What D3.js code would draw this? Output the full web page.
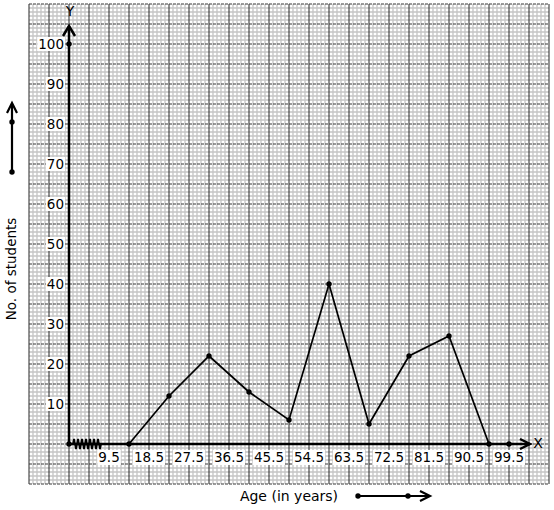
<!DOCTYPE html>
<html><head><meta charset="utf-8">
<script src="https://cdn.jsdelivr.net/npm/d3@7"></script>
<style>body{margin:0;background:#fff}svg{display:block}text{font-family:"DejaVu Sans",sans-serif}</style>
</head><body><svg id="c" width="554" height="510"></svg>
<script>
const classMarks = [14, 23, 32, 41, 50, 59, 68, 77, 86, 95];
const students = [0, 12, 22, 13, 6, 40, 5, 22, 27, 0];
const xTickLabels = [9.5, 18.5, 27.5, 36.5, 45.5, 54.5, 63.5, 72.5, 81.5, 90.5, 99.5];
const yTicks = [10, 20, 30, 40, 50, 60, 70, 80, 90, 100];
const xTitle = "Age (in years)";
const yTitle = "No. of students";

const svg = d3.select("#c");
const ox = 69, oy = 444;
const x = d3.scaleLinear().domain([9.5, 99.5]).range([109, 509]);
const y = d3.scaleLinear().domain([0, 100]).range([oy, 44]);

// graph paper
const gx0 = 29, gx1 = 549, gy0 = 4, gy1 = 484;
const grid = svg.append("g");
for (let px = gx0; px <= gx1; px += 4) {
  if ((px - gx0) % 20 === 0) continue;
  grid.append("line").attr("x1", px).attr("x2", px).attr("y1", gy0).attr("y2", gy1)
    .attr("stroke", "#c4c4c4").attr("stroke-width", 1.3);
}
for (let py = gy0; py <= gy1; py += 4) {
  if ((py - gy0) % 20 === 0) continue;
  grid.append("line").attr("x1", gx0).attr("x2", gx1).attr("y1", py).attr("y2", py)
    .attr("stroke", "#c4c4c4").attr("stroke-width", 1.3);
}
for (let py = gy0; py <= gy1; py += 20) {
  grid.append("line").attr("x1", gx0).attr("x2", gx1).attr("y1", py).attr("y2", py)
    .attr("stroke", "#3a3a3a").attr("stroke-width", 1.1).attr("stroke-dasharray", "3,1");
}
for (let px = gx0; px <= gx1; px += 20) {
  grid.append("line").attr("x1", px).attr("x2", px).attr("y1", gy0).attr("y2", gy1)
    .attr("stroke", "#3a3a3a").attr("stroke-width", 1.1);
}

// axes
const ax = svg.append("g").attr("stroke", "#000").attr("fill", "none").attr("stroke-width", 2.5);
ax.append("line").attr("x1", ox).attr("x2", ox).attr("y1", oy).attr("y2", 26);
ax.append("path").attr("d", `M${ox-6},${36} L${ox},${26} L${ox+6},${36}`);
ax.append("line").attr("x1", ox).attr("x2", 530).attr("y1", oy).attr("y2", oy);
ax.append("path").attr("d", `M${520},${oy-5} L${530},${oy} L${520},${oy+5}`);
// zigzag break
let zz = `M${ox+4},${oy}`;
for (let i = 0; i < 7; i++) {
  const bx = 73 + i * 4;
  zz += ` L${bx+1},${oy-5} L${bx+3},${oy+5}`;
}
zz += ` L${101},${oy}`;
ax.append("path").attr("d", zz).attr("stroke-width", 1.8);

svg.append("text").attr("x", ox + 1).attr("y", 16).attr("text-anchor", "middle")
  .attr("font-size", 14).text("Y");
svg.append("text").attr("x", 538).attr("y", 448).attr("text-anchor", "middle")
  .attr("font-size", 14).text("X");

// y tick labels
const yl = svg.append("g");
yTicks.forEach(v => {
  const t = yl.append("text").attr("x", 64).attr("y", y(v) + 5).attr("text-anchor", "end")
    .attr("font-size", 13.5).text(v);
  const b = t.node().getBBox();
  yl.insert("rect", "text").attr("x", b.x - 1).attr("y", b.y + 1).attr("width", b.width + 2)
    .attr("height", b.height - 2).attr("fill", "#fff");
});
// x tick labels
const xl = svg.append("g");
xTickLabels.forEach(v => {
  const t = xl.append("text").attr("x", x(v)).attr("y", oy + 18).attr("text-anchor", "middle")
    .attr("font-size", 13.5).text(v);
  const b = t.node().getBBox();
  xl.insert("rect", "text").attr("x", b.x - 1).attr("y", b.y + 1).attr("width", b.width + 2)
    .attr("height", b.height - 1).attr("fill", "#fff");
});

// polygon
const pts = classMarks.map((c, i) => [x(c), y(students[i])]);
svg.append("path").attr("d", d3.line()(pts)).attr("fill", "none")
  .attr("stroke", "#000").attr("stroke-width", 1.7);
const dots = pts.concat([[ox, y(0)], [ox, y(100)], [x(99.5), y(0)]]);
svg.append("g").selectAll("circle").data(dots).join("circle")
  .attr("cx", d => d[0]).attr("cy", d => d[1]).attr("r", 2.7).attr("fill", "#000");

// titles
svg.append("text").attr("transform", "translate(16,269) rotate(-90)").attr("text-anchor", "middle")
  .attr("font-size", 13.5).text(yTitle);
svg.append("text").attr("x", 289).attr("y", 501).attr("text-anchor", "middle")
  .attr("font-size", 14).text(xTitle);

// decorative arrows
const ar = svg.append("g").attr("stroke", "#000").attr("fill", "none").attr("stroke-width", 2.2);
ar.append("line").attr("x1", 12).attr("x2", 12).attr("y1", 172).attr("y2", 104);
ar.append("path").attr("d", "M7,113 L12,103 L17,113");
svg.append("circle").attr("cx", 12).attr("cy", 172).attr("r", 2.7);
svg.append("circle").attr("cx", 12).attr("cy", 122).attr("r", 2.7);
ar.append("line").attr("x1", 358).attr("x2", 428).attr("y1", 496).attr("y2", 496);
ar.append("path").attr("d", "M420,491 L430,496 L420,501");
svg.append("circle").attr("cx", 358).attr("cy", 496).attr("r", 2.7);
svg.append("circle").attr("cx", 408).attr("cy", 496).attr("r", 2.7);
</script></body></html>
